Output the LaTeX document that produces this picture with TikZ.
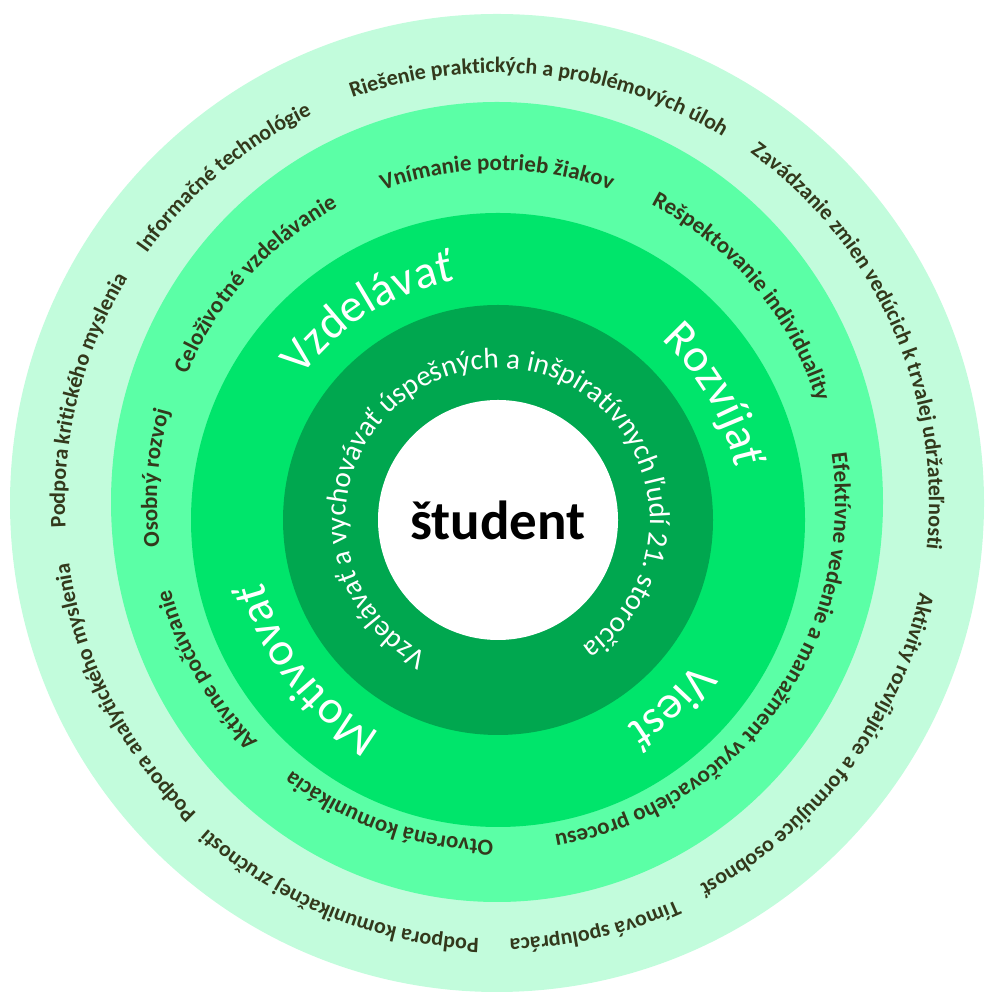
\documentclass[tikz,border=0pt]{standalone}
\usepackage{fontspec}
\setmainfont{Carlito}
\usetikzlibrary{decorations.text}
\definecolor{ring1}{HTML}{C2FCDC}
\definecolor{ring2}{HTML}{5BFFA6}
\definecolor{ring3}{HTML}{00E56B}
\definecolor{ring4}{HTML}{00A74F}
\definecolor{tcol}{HTML}{33391C}
\newcommand\myarctext[6]{% center, radius, mid, halfspan, format, text
  \path[shift={#1},decorate,decoration={text along path,text align=center,text={|#5|#6}}]
    ({#3+#4}:#2) arc[start angle={#3+#4}, end angle={#3-#4}, radius=#2];}
\newcommand\myfo{\fontsize{22}{26}\selectfont\bfseries\color{tcol}}
\newcommand\myfs{\fontsize{23}{27}\selectfont\bfseries\color{tcol}}
\newcommand\myfb{\fontsize{47}{52}\selectfont\color{white}}
\newcommand\myfin{\fontsize{29}{32}\selectfont\color{white}}
\begin{document}
\begin{tikzpicture}[x=1pt,y=1pt]
\useasboundingbox (0,0) rectangle (995,1000);
\coordinate (c1) at (497,497);
\coordinate (c2) at (497,498);
\coordinate (c3) at (498,480);
\fill[ring1] (c1) ellipse[x radius=487,y radius=489];
\fill[ring2] (c2) ellipse[x radius=386,y radius=400];
\fill[ring3] (c3) circle[radius=307];
\fill[ring4] (c3) circle[radius=215];
\fill[white] (c3) circle[radius=120];
\node[font=\fontsize{55}{60}\selectfont\bfseries] (st) at (c3) {študent};
% outer ring
\myarctext{(c1)}{430}{84}{80}{\myfo}{Riešenie praktických a problémových úloh}
\myarctext{(c1)}{430}{130}{40}{\myfo}{Informačné technológie}
\myarctext{(c1)}{432}{166}{40}{\myfo}{Podpora kritického myslenia}
\myarctext{(c1)}{432}{207}{40}{\myfo}{Podpora analytického myslenia}
\myarctext{(c1)}{436}{248}{40}{\myfo}{Podpora komunikačnej zručnosti}
\myarctext{(c1)}{436}{283}{30}{\myfo}{Tímová spolupráca}
\myarctext{(c1)}{432}{323}{45}{\myfo}{Aktivity rozvíjajúce a formujúce osobnosť}
\myarctext{(c1)}{432}{24}{50}{\myfo}{Zavádzanie zmien vedúcich k trvalej udržateľnosti}
% second ring
\myarctext{(c2)}{332}{90}{40}{\myfs}{Vnímanie potrieb žiakov}
\myarctext{(c2)}{335}{138}{40}{\myfs}{Celoživotné vzdelávanie}
\myarctext{(c2)}{340}{176}{30}{\myfs}{Osobný rozvoj}
\myarctext{(c2)}{338}{210}{30}{\myfs}{Aktívne počúvanie}
\myarctext{(c2)}{338}{251}{35}{\myfs}{Otvorená komunikácia}
\myarctext{(c2)}{338}{324}{75}{\myfs}{Efektívne vedenie a manažment vyučovacieho procesu}
\myarctext{(c2)}{335}{40}{40}{\myfs}{Rešpektovanie individuality}
% third ring
\myarctext{(c3)}{243}{122}{45}{\myfb}{Vzdelávať}
\myarctext{(c3)}{243}{30}{45}{\myfb}{Rozvíjať}
\myarctext{(c3)}{243}{313}{40}{\myfb}{Viesť}
\myarctext{(c3)}{243}{218}{45}{\myfb}{Motivovať}
% inner ring
\myarctext{(c3)}{152}{93}{176}{\myfin}{Vzdelávať a vychovávať úspešných a inšpiratívnych ľudí 21. storočia}
\end{tikzpicture}
\end{document}
